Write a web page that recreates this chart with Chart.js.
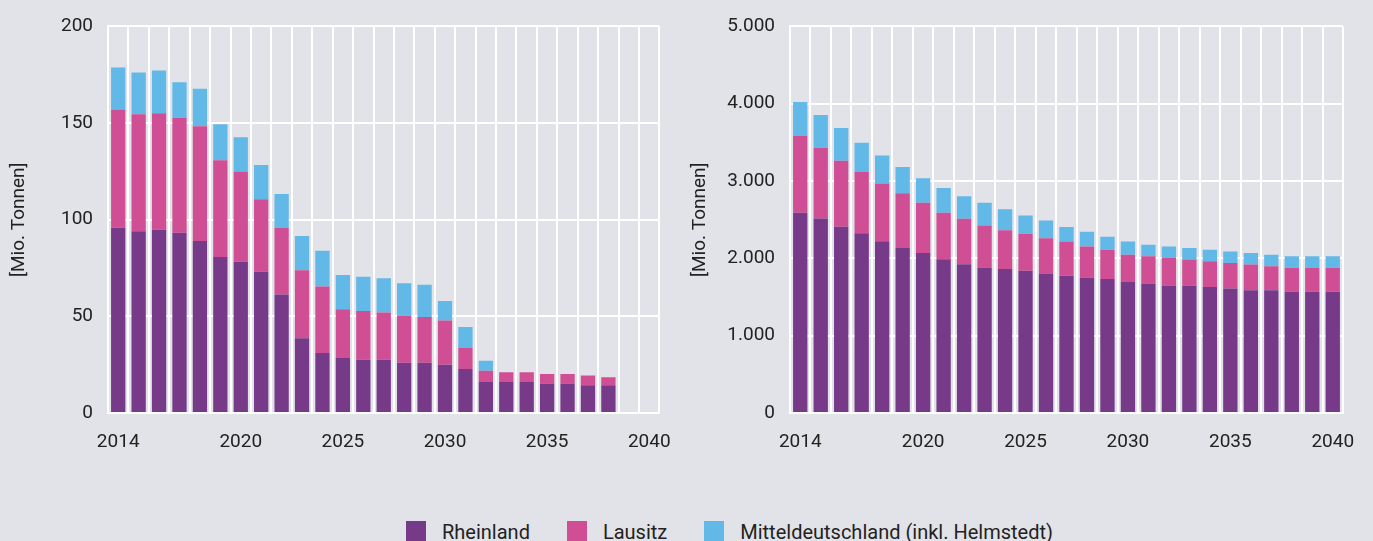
<!DOCTYPE html>
<html lang="de">
<head>
<meta charset="utf-8">
<title>Braunkohle</title>
<script src="https://cdn.jsdelivr.net/npm/chart.js@4.4.1/dist/chart.umd.min.js"></script>
<style>
  html, body {
    margin: 0;
    padding: 0;
    background: #e2e3e8;
    width: 1373px;
    height: 541px;
    overflow: hidden;
    font-family: Roboto, "Noto Sans", sans-serif;
  }
  .chart-box {
    position: absolute;
    top: 0;
    height: 470px;
  }
  /* left box runs a little under the right one so the last year label fits */
  #leftBox { left: 0; width: 689px; }
  #rightBox { left: 680px; width: 693px; }
  #legend {
    position: absolute;
    top: 521px;
    left: 406px;
    display: flex;
    align-items: flex-start;
    font-size: 20px;
    color: #222;
  }
  .legend-item {
    display: flex;
    align-items: flex-start;
    margin-right: 37px;
  }
  .legend-swatch {
    width: 20px;
    height: 21px;
    margin-right: 16px;
  }
  .legend-text {
    line-height: 21px;
    margin-top: 1px;
  }
</style>
</head>
<body>
<div class="chart-box" id="leftBox"><canvas id="leftChart"></canvas></div>
<div class="chart-box" id="rightBox"><canvas id="rightChart"></canvas></div>
<div id="legend"></div>

<script>
// Categories
const years = [
  "2014", "2015", "2016", "2017", "2018", "2019", "2020", "2021", "2022",
  "2023", "2024", "2025", "2026", "2027", "2028", "2029", "2030", "2031",
  "2032", "2033", "2034", "2035", "2036", "2037", "2038", "2039", "2040",
];
// Only these year labels are printed under the axis
const shownYears = ["2014", "2020", "2025", "2030", "2035", "2040"];

const seriesNames = ["Rheinland", "Lausitz", "Mitteldeutschland (inkl. Helmstedt)"];
const seriesColors = ["#763a89", "#d04f94", "#62b8e7"];

// Left chart values [Mio. Tonnen]
const rheinlandLeft = [
  95.8, 94.0, 94.8, 93.3, 89.0, 80.7, 78.2, 73.1, 61.3, 38.7, 31.1, 28.5, 27.5,
  27.5, 26.0, 26.0, 25.0, 22.8, 16.0, 16.0, 16.0, 15.3, 15.3, 14.4, 14.4, null, null,
];
const lausitzLeft = [
  61.2, 60.5, 60.3, 59.5, 59.3, 50.1, 46.7, 37.5, 34.4, 35.2, 34.3, 25.2, 25.3,
  24.5, 24.5, 23.6, 22.9, 10.8, 5.9, 5.1, 5.1, 4.9, 4.9, 5.0, 4.1, null, null,
];
const mitteLeft = [
  21.8, 21.7, 22.1, 18.3, 19.4, 18.6, 17.7, 17.7, 17.6, 17.7, 18.5, 17.7, 17.7,
  17.7, 16.6, 16.8, 10.0, 10.9, 5.1, 0, 0, 0, 0, 0, 0, null, null,
];
const leftTicks = [0, 50, 100, 150, 200];

// Right chart values [Mio. Tonnen]
const rheinlandRight = [
  2591, 2515, 2409, 2324, 2222, 2133, 2069, 1988, 1924, 1882, 1861, 1839, 1797,
  1776, 1754, 1733, 1695, 1674, 1648, 1648, 1631, 1610, 1589, 1589, 1568, 1568, 1568,
];
const lausitzRight = [
  990, 917, 854, 794, 747, 709, 650, 603, 587, 544, 501, 480, 463,
  442, 400, 378, 353, 352, 357, 336, 332, 331, 331, 310, 310, 310, 310,
];
const mitteRight = [
  442, 421, 424, 378, 362, 340, 318, 319, 293, 293, 272, 234, 229,
  186, 191, 170, 170, 149, 149, 149, 148, 149, 149, 149, 148, 148, 148,
];
const rightTicks = [0, 1000, 2000, 3000, 4000, 5000];

const axisFont = { family: "Roboto, 'Noto Sans', sans-serif", size: 19 };
const textColor = "#222";

// German thousands separator: 5000 -> 5.000
function formatDe(value) {
  return String(value).replace(/\B(?=(\d{3})+(?!\d))/g, ".");
}

function buildDatasets(values) {
  return values.map((data, i) => ({
    label: seriesNames[i],
    data: data,
    backgroundColor: seriesColors[i],
    borderWidth: 0,
    barPercentage: 0.7,
    categoryPercentage: 1,
  }));
}

// Render one stacked bar panel
function renderPanel(canvasId, values, ticks, opts) {
  const canvas = document.getElementById(canvasId);
  if (!canvas) {
    console.error("Canvas not found: " + canvasId);
    return null;
  }
  const ctx = canvas.getContext("2d");

  return new Chart(ctx, {
    type: "bar",
    data: {
      labels: years,
      datasets: buildDatasets(values),
    },
    options: {
      responsive: true,
      maintainAspectRatio: false,
      animation: false,
      layout: {
        padding: { top: 23, right: opts.rightPad, bottom: 0, left: 0 },
      },
      plugins: {
        legend: { display: false },
        tooltip: { enabled: false },
      },
      scales: {
        x: {
          stacked: true,
          afterFit: (scale) => {
            scale.height = 57;
          },
          grid: {
            color: "#ffffff",
            lineWidth: 2,
            drawTicks: false,
            offset: true,
          },
          border: { color: "#ffffff", width: 2 },
          ticks: {
            autoSkip: false,
            maxRotation: 0,
            padding: 18,
            color: textColor,
            font: axisFont,
            callback: function (value) {
              const label = this.getLabelForValue(value);
              return shownYears.includes(label) ? label : "";
            },
          },
        },
        y: {
          stacked: true,
          min: ticks[0],
          max: ticks[ticks.length - 1],
          afterFit: (scale) => {
            scale.width = opts.axisWidth;
          },
          afterBuildTicks: (scale) => {
            scale.ticks = ticks.map((v) => ({ value: v }));
          },
          grid: {
            color: "#ffffff",
            lineWidth: 2,
            drawTicks: false,
          },
          border: { color: "#ffffff", width: 2 },
          ticks: {
            padding: 15,
            color: textColor,
            font: axisFont,
            callback: (value) => formatDe(value),
          },
          title: {
            display: true,
            text: "[Mio. Tonnen]",
            color: textColor,
            font: axisFont,
            padding: { top: opts.titlePad, bottom: 0 },
          },
        },
      },
    },
  });
}

// Legend built from the series arrays
function renderLegend() {
  const box = document.getElementById("legend");
  seriesNames.forEach((name, i) => {
    const item = document.createElement("div");
    item.className = "legend-item";
    const swatch = document.createElement("span");
    swatch.className = "legend-swatch";
    swatch.style.background = seriesColors[i];
    const text = document.createElement("span");
    text.className = "legend-text";
    text.textContent = name;
    item.appendChild(swatch);
    item.appendChild(text);
    box.appendChild(item);
  });
}

renderPanel("leftChart", [rheinlandLeft, lausitzLeft, mitteLeft], leftTicks, {
  rightPad: 21,
  axisWidth: 108,
  titlePad: 8,
});
renderPanel("rightChart", [rheinlandRight, lausitzRight, mitteRight], rightTicks, {
  rightPad: 30,
  axisWidth: 110,
  titlePad: 9,
});
renderLegend();
</script>
</body>
</html>
